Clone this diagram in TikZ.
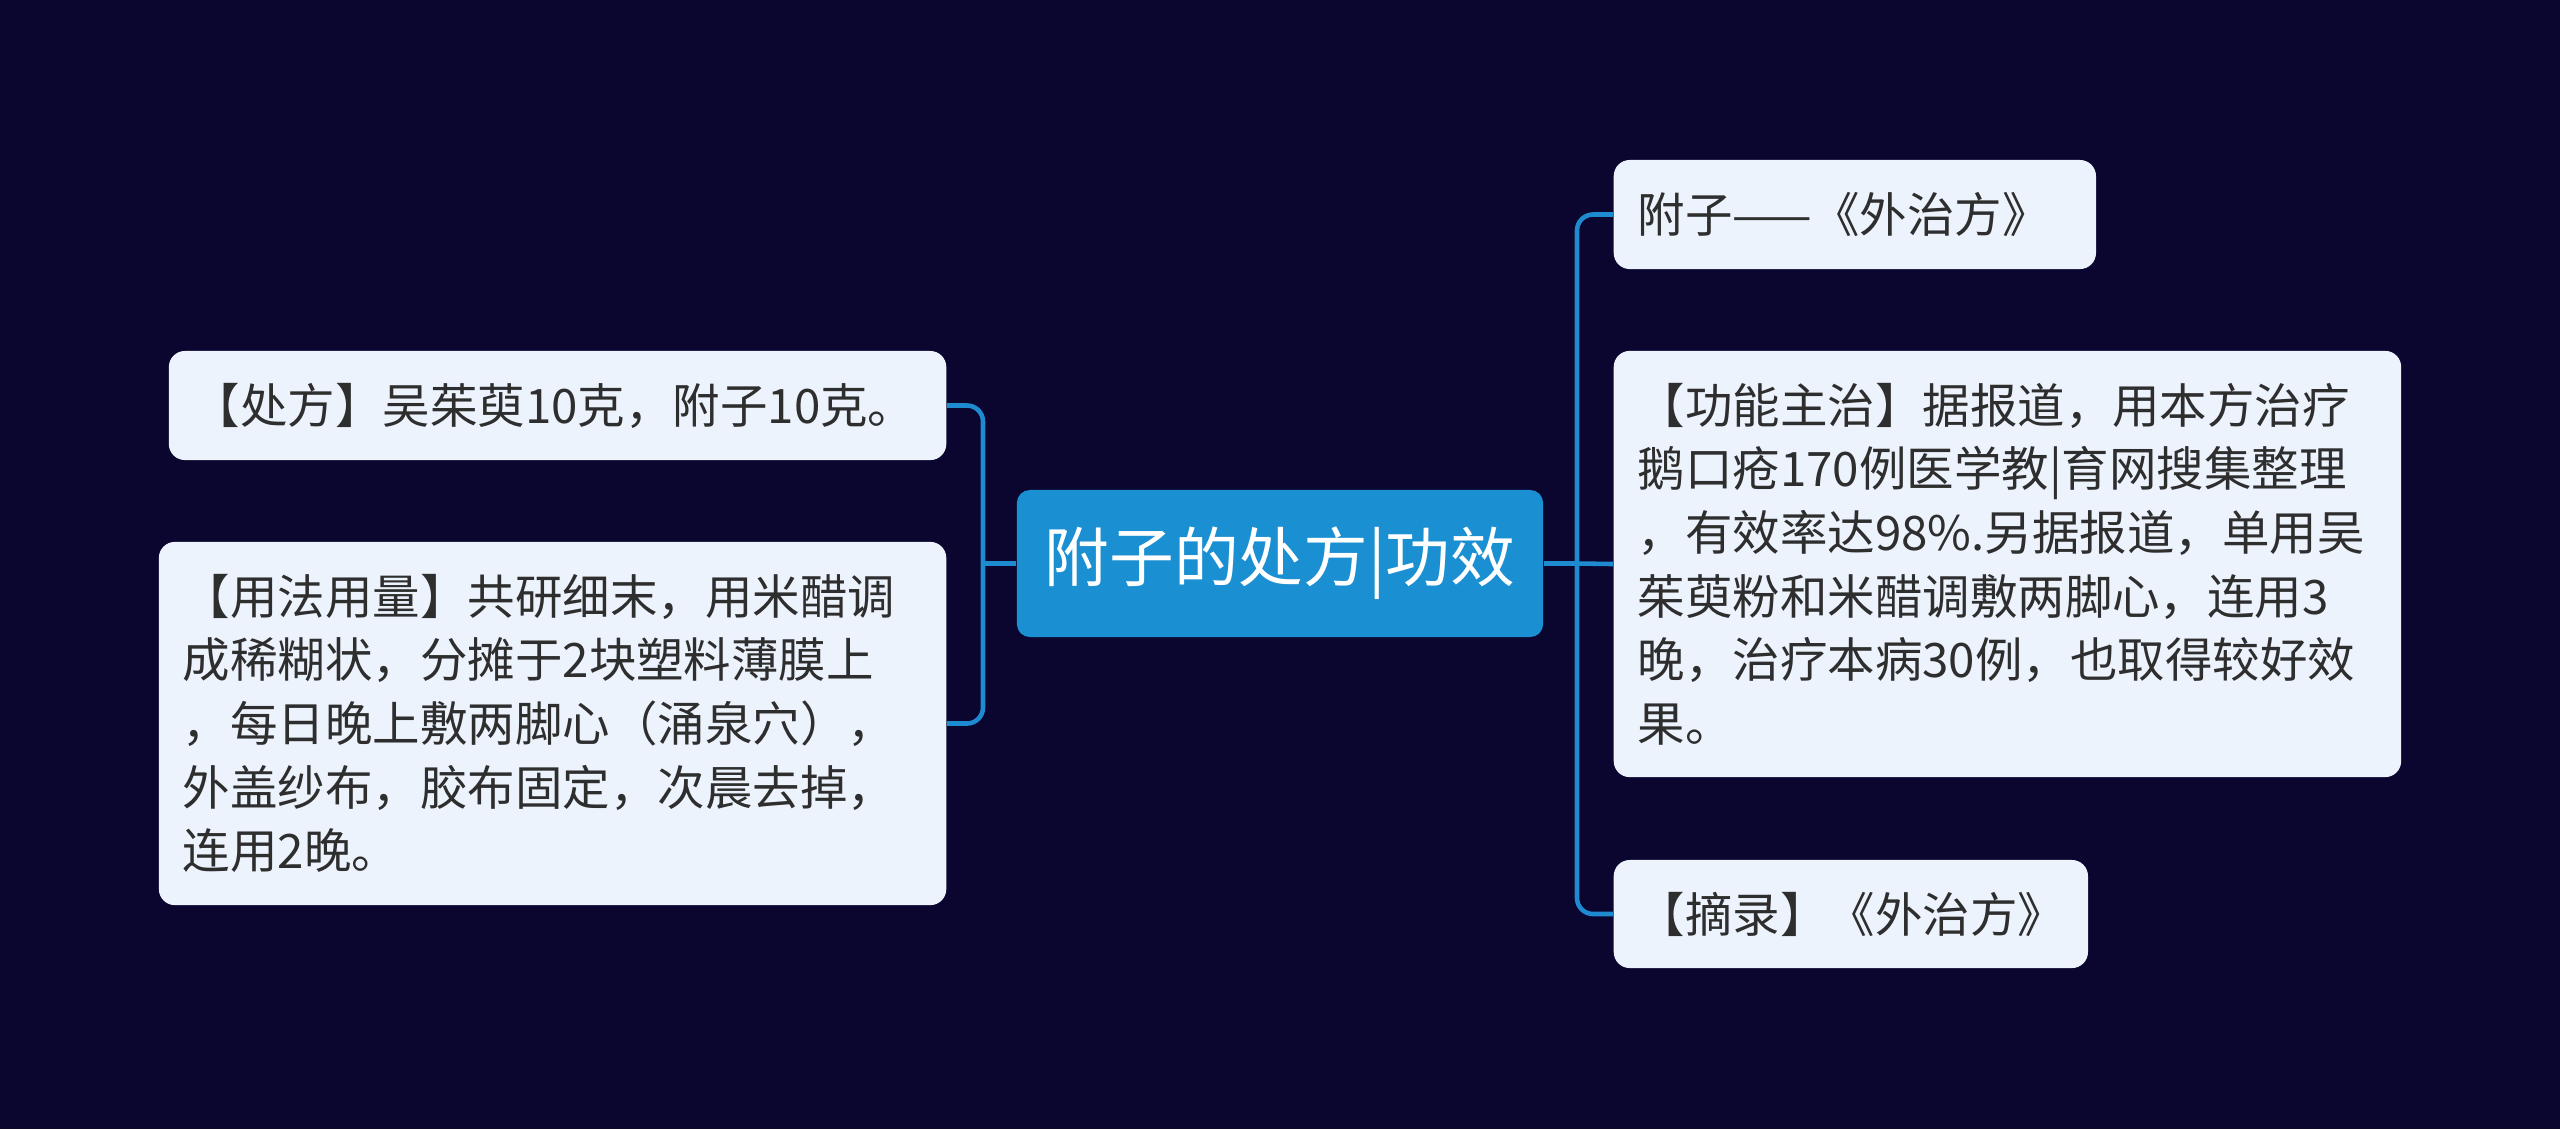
\documentclass[tikz,border=0pt]{standalone}
\usepackage{fontspec}
\setmainfont{Noto Sans CJK SC}
\usetikzlibrary{positioning}
\definecolor{bgnavy}{HTML}{0A0630}
\definecolor{hubblue}{HTML}{1A8FD1}
\definecolor{linkblue}{HTML}{1E8BD0}
\definecolor{leaffill}{HTML}{EDF3FD}
\definecolor{leaftext}{HTML}{2E2E2E}

\begin{document}
\begin{tikzpicture}[x=0.01cm, y=-0.01cm,
  hub/.style={fill=hubblue, text=white, rounded corners=0.13cm, minimum width=5.26cm, minimum height=1.47cm, font=\fontsize{18.4pt}{22pt}\selectfont},
  leaf/.style={fill=leaffill, text=leaftext, rounded corners=0.16cm, align=left, inner xsep=0.24cm, inner ysep=0pt, font=\fontsize{13.5pt}{18.1pt}\selectfont},
  link/.style={draw=linkblue, line width=1.3pt, rounded corners=0.16cm}]
\path[use as bounding box, fill=bgnavy] (0,0) rectangle (2560,1129);
% centre
\node[hub] (hub) at (1280,563.5) {附子的处方|功效};
% left side
\node[leaf, anchor=east, text width=7.29cm, minimum height=1.09cm] (dose) at (947,405.5) {【处方】吴茱萸10克，附子10克。};
\node[leaf, anchor=east, text width=7.39cm, minimum height=3.63cm] (usage) at (947,723.5) {【用法用量】共研细末，用米醋调\\成稀糊状，分摊于2块塑料薄膜上\\，每日晚上敷两脚心（涌泉穴），\\外盖纱布，胶布固定，次晨去掉，\\连用2晚。};
% right side
\node[leaf, anchor=west, text width=4.34cm, minimum height=1.09cm] (source) at (1613,214.5) {附子——《外治方》};
\node[leaf, anchor=west, text width=7.39cm, minimum height=4.26cm] (effect) at (1613,564) {【功能主治】据报道，用本方治疗\\鹅口疮170例医学教|育网搜集整理\\，有效率达98\%.另据报道，单用吴\\茱萸粉和米醋调敷两脚心，连用3\\晚，治疗本病30例，也取得较好效\\果。};
\node[leaf, anchor=west, text width=4.26cm, minimum height=1.08cm] (excerpt) at (1613,914) {【摘录】《外治方》};
\coordinate (ljoin) at (983,563.5);
\coordinate (rjoin) at (1577,563.5);
\draw[link] (hub.west) -- (ljoin);
\draw[link] (dose.east) -| (ljoin) |- (usage.east);
\draw[link] (hub.east) -- (rjoin);
\draw[link] (source.west) -| (rjoin) |- (excerpt.west);
\draw[link] (rjoin) -- (effect.west);
\end{tikzpicture}
\end{document}
